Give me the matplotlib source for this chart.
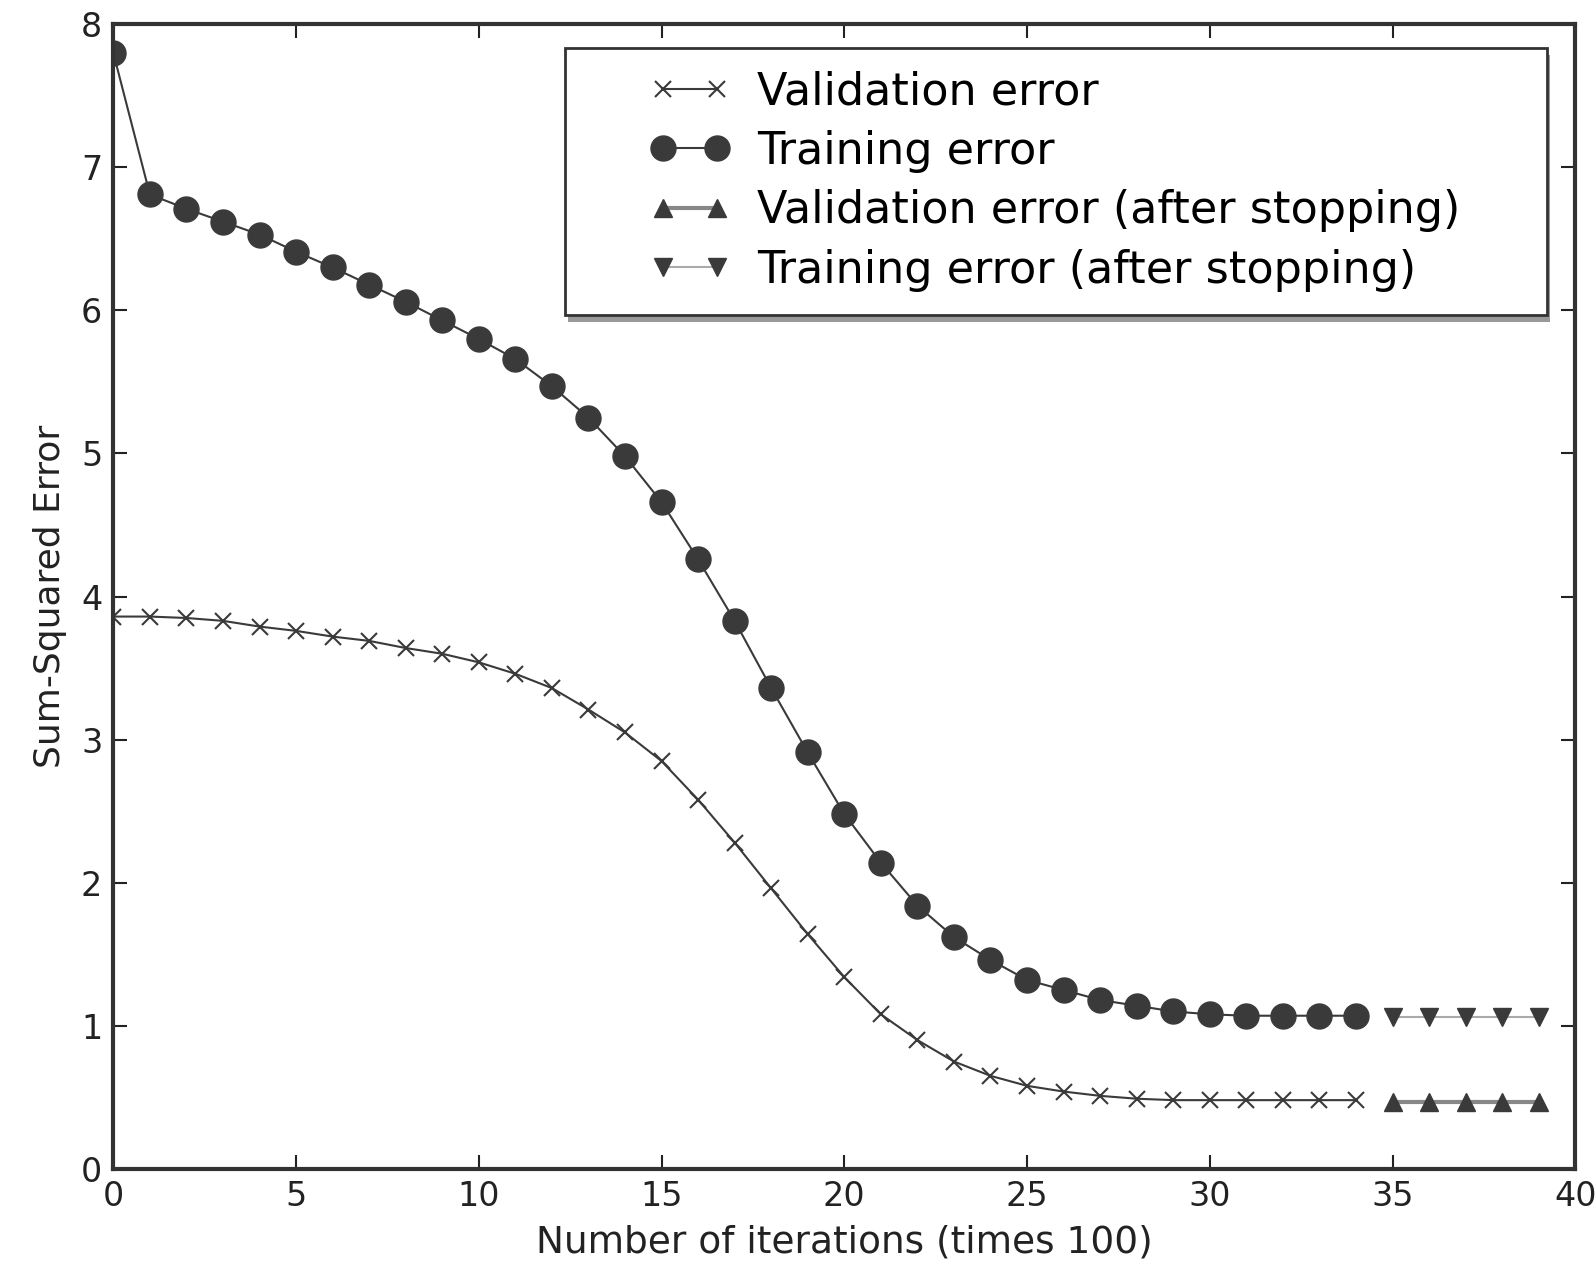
import matplotlib
matplotlib.use("Agg")
import matplotlib.pyplot as plt
from matplotlib.patches import Rectangle

iters = list(range(0, 35))
iters_after = list(range(35, 40))

training = [7.80, 6.81, 6.71, 6.62, 6.53, 6.41, 6.30, 6.18, 6.06, 5.93,
            5.80, 5.66, 5.47, 5.25, 4.98, 4.66, 4.26, 3.83, 3.36, 2.91,
            2.48, 2.14, 1.84, 1.62, 1.46, 1.32, 1.25, 1.18, 1.14, 1.10,
            1.08, 1.07, 1.07, 1.07, 1.07]
validation = [3.86, 3.86, 3.85, 3.83, 3.79, 3.76, 3.72, 3.69, 3.64, 3.60,
              3.54, 3.46, 3.36, 3.21, 3.05, 2.85, 2.58, 2.28, 1.96, 1.64,
              1.34, 1.08, 0.90, 0.75, 0.65, 0.58, 0.54, 0.51, 0.49, 0.48,
              0.48, 0.48, 0.48, 0.48, 0.48]
training_after = [1.06, 1.06, 1.06, 1.06, 1.06]
validation_after = [0.47, 0.47, 0.47, 0.47, 0.47]

xticks = [0, 5, 10, 15, 20, 25, 30, 35, 40]
yticks = [0, 1, 2, 3, 4, 5, 6, 7, 8]

dark = "#3a3a3a"
fig = plt.figure(figsize=(15.96, 12.76), dpi=100)
ax = fig.add_axes([0.071, 0.084, 0.916, 0.897])

ax.plot(iters, validation, color=dark, marker="x", markersize=11, mew=1.5,
        lw=1.5, label="Validation error")
ax.plot(iters, training, color=dark, marker="o", markersize=18,
        lw=1.5, label="Training error")
ax.plot(iters_after, validation_after, color="#888888", marker="^", markersize=13,
        mfc=dark, mec=dark, lw=3, label="Validation error (after stopping)")
ax.plot(iters_after, training_after, color="#aaaaaa", marker="v", markersize=13,
        mfc=dark, mec=dark, lw=1.5, label="Training error (after stopping)")

ax.set_xlim(0, 40)
ax.set_ylim(0, 8)
ax.set_xticks(xticks)
ax.set_yticks(yticks)
ax.tick_params(direction="in", top=True, right=True, length=10, width=1.5,
               labelsize=24, colors="#222222", pad=8)
for s in ax.spines.values():
    s.set_linewidth(3)
    s.set_color("#333333")

ax.set_xlabel("Number of iterations (times 100)", fontsize=27, color="#222222", labelpad=8)
ax.set_ylabel("Sum-Squared Error", fontsize=26, color="#222222", labelpad=10)

# legend frame with shadow
x0, x1, y0, y1 = 0.309, 0.9805, 0.7456, 0.9795
ax.add_patch(Rectangle((x0 + 0.002, y0 - 0.006), x1 - x0, y1 - y0,
                       transform=ax.transAxes, facecolor="#999999",
                       edgecolor="none", zorder=9))
ax.add_patch(Rectangle((x0, y0), x1 - x0, y1 - y0, transform=ax.transAxes,
                       facecolor="white", edgecolor="#333333", lw=2, zorder=10))

leg = ax.legend(loc="upper left", fontsize=32, numpoints=2, frameon=False,
                borderpad=0, handlelength=1.8, handletextpad=0.6,
                labelspacing=0.37, bbox_to_anchor=(0.352, 0.979))
leg.set_zorder(11)

fig.savefig("out.png", dpi=100)
